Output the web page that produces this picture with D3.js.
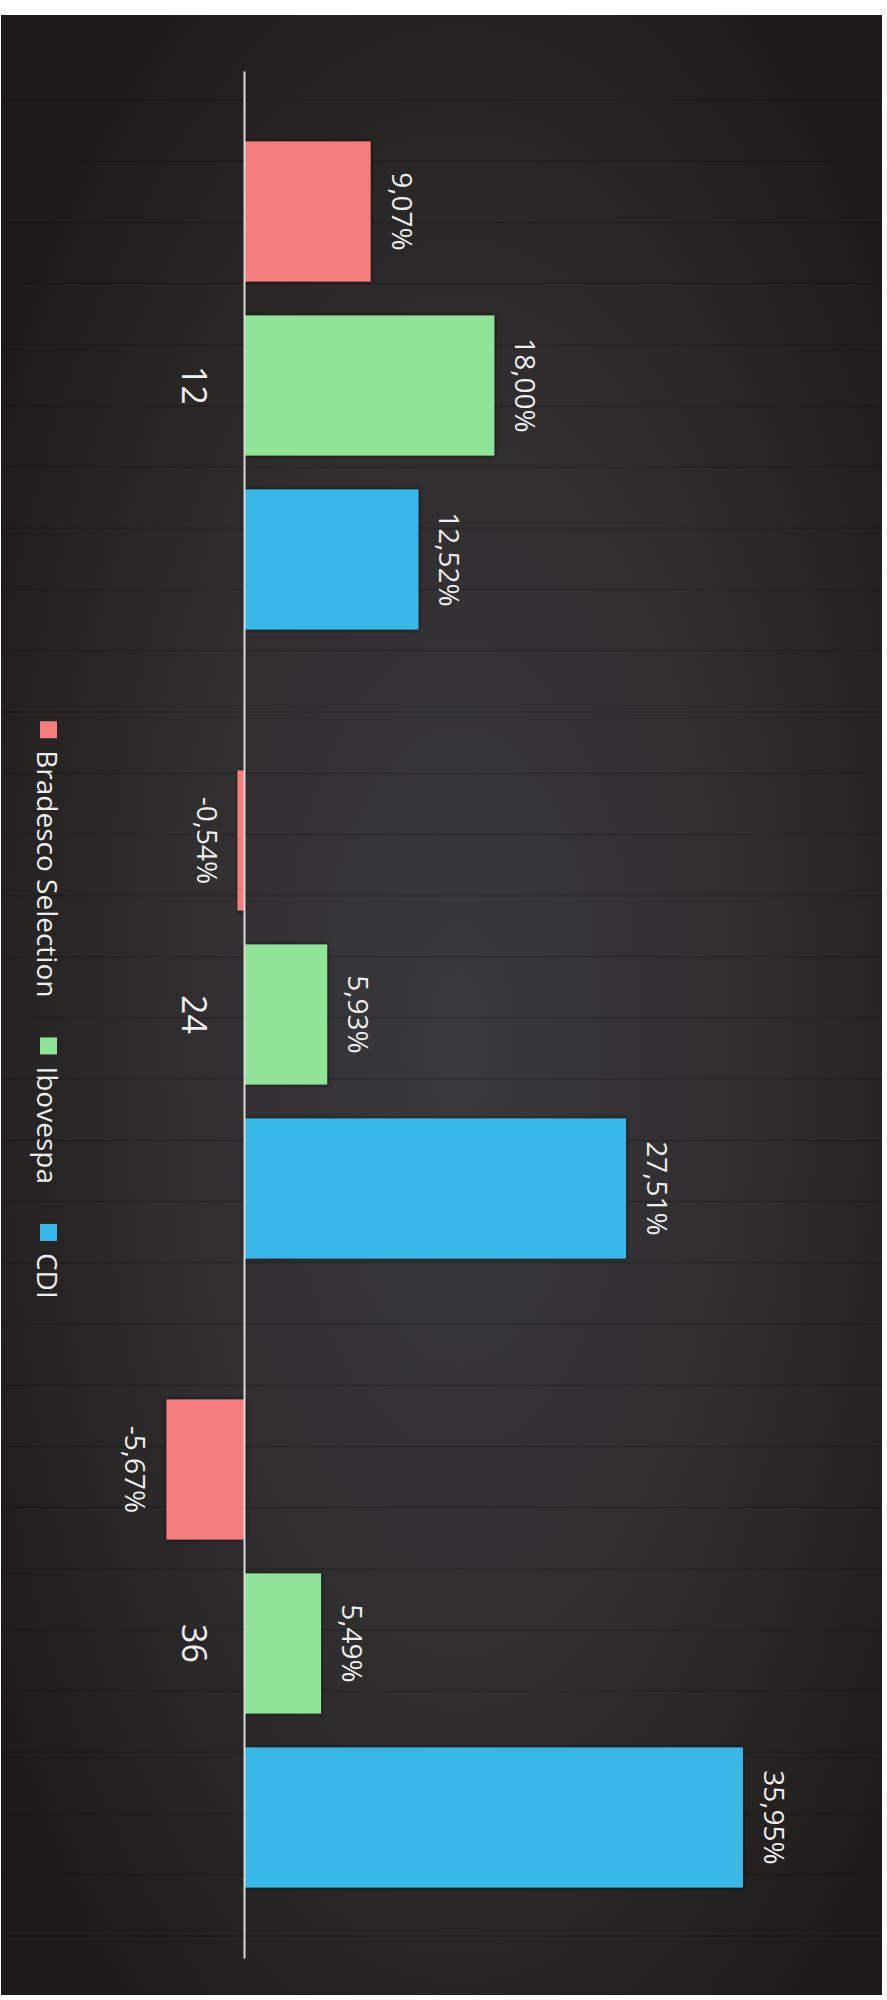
<!DOCTYPE html>
<html>
<head>
<meta charset="utf-8">
<script src="https://cdn.jsdelivr.net/npm/d3@7"></script>
<style>
  html, body { margin: 0; padding: 0; background: #ffffff; }
  svg { display: block; }
</style>
</head>
<body>
<script>
// Accumulated returns (%) per holding period (months)
const periods = ["12", "24", "36"];
const seriesNames = ["Bradesco Selection", "Ibovespa", "CDI"];
const bradescoSelection = [9.07, -0.54, -5.67];
const ibovespa = [18.00, 5.93, 5.49];
const cdi = [12.52, 27.51, 35.95];
const seriesColors = ["#f67d7e", "#8fe498", "#37b8e9"];
const valueDomain = [-10, 40];

const seriesValues = [bradescoSelection, ibovespa, cdi];
const rows = periods.map((p, i) => ({
  period: p,
  values: seriesNames.map((name, j) => ({ name, value: seriesValues[j][i], color: seriesColors[j] }))
}));

const ptBR = d3.formatLocale({ decimal: ",", thousands: ".", grouping: [3], currency: ["R$", ""], minus: "-" });
const fmt = v => ptBR.format(".2f")(v) + "%";

const W = 887, H = 2000;
const svg = d3.select("body").append("svg").attr("width", W).attr("height", H);
const defs = svg.append("defs");

const grad = defs.append("radialGradient").attr("id", "panelBg")
  .attr("cx", "52%").attr("cy", "52%").attr("r", "62%");
grad.append("stop").attr("offset", "0%").attr("stop-color", "#3a393c");
grad.append("stop").attr("offset", "55%").attr("stop-color", "#2f2d2e");
grad.append("stop").attr("offset", "100%").attr("stop-color", "#201b1a");

const shadow = defs.append("filter").attr("id", "barShadow")
  .attr("x", "-10%").attr("y", "-10%").attr("width", "120%").attr("height", "120%");
shadow.append("feDropShadow").attr("dx", 0).attr("dy", 0).attr("stdDeviation", 2)
  .attr("flood-color", "#000").attr("flood-opacity", 0.75);

// Dark panel
const panel = { x: 1, y: 15, w: 881, h: 1980 };
svg.append("rect").attr("x", panel.x).attr("y", panel.y)
  .attr("width", panel.w).attr("height", panel.h).attr("fill", "url(#panelBg)");

// Faint banding across the panel
const bandLines = svg.append("g").attr("stroke", "rgba(0,0,0,0.18)").attr("stroke-width", 1.5);
for (let yy = 100; yy < panel.y + panel.h; yy += 61.2) {
  bandLines.append("line").attr("x1", panel.x).attr("x2", panel.x + panel.w)
    .attr("y1", yy).attr("y2", yy);
}

// The column chart is laid out in its own frame and turned a quarter turn clockwise
const chart = svg.append("g").attr("transform", `translate(${W},0) rotate(90)`);

const x0 = d3.scaleBand().domain(periods).range([71, 1958]).paddingInner(0).paddingOuter(0);
const x1 = d3.scaleBand().domain(seriesNames).range([0, x0.bandwidth()])
  .paddingInner(0.195).paddingOuter(0.405);
const y = d3.scaleLinear().domain(valueDomain).range([780.5, 88]);

const groups = chart.selectAll("g.period").data(rows).join("g")
  .attr("class", "period")
  .attr("transform", d => `translate(${x0(d.period)},0)`);

groups.selectAll("rect").data(d => d.values).join("rect")
  .attr("x", d => x1(d.name))
  .attr("width", x1.bandwidth())
  .attr("y", d => Math.min(y(d.value), y(0)))
  .attr("height", d => Math.abs(y(d.value) - y(0)))
  .attr("fill", d => d.color)
  .attr("filter", "url(#barShadow)");

const labelSize = 28;
groups.selectAll("text.val").data(d => d.values).join("text")
  .attr("class", "val")
  .attr("x", d => x1(d.name) + x1.bandwidth() / 2)
  .attr("y", d => d.value >= 0 ? y(d.value) - 21 : y(d.value) + 21 + labelSize * 0.714)
  .attr("text-anchor", "middle")
  .attr("font-family", "'Open Sans', sans-serif")
  .attr("font-size", labelSize)
  .attr("fill", "#eeeeee")
  .text(d => fmt(d.value));

// Category axis along the zero line
const axis = chart.append("g").attr("transform", `translate(0,${y(0)})`)
  .call(d3.axisBottom(x0).tickSize(0).tickSizeOuter(0));
axis.select(".domain").attr("stroke", "#d9d9d9").attr("stroke-width", 2);
axis.selectAll(".tick text")
  .attr("y", 63).attr("dy", null)
  .attr("font-family", "'Open Sans', sans-serif")
  .attr("font-size", 34)
  .attr("fill", "#eeeeee");

// Legend
const legend = chart.append("g");
const legendItems = legend.selectAll("g").data(seriesNames).join("g");
legendItems.append("rect")
  .attr("y", 830).attr("width", 17).attr("height", 17)
  .attr("fill", (d, i) => seriesColors[i]);
legendItems.append("text")
  .attr("x", 29).attr("y", 850)
  .attr("font-family", "'Open Sans', sans-serif")
  .attr("font-size", 28)
  .attr("fill", "#eeeeee")
  .text(d => d);
let cursor = 0;
const offsets = [];
legendItems.each(function () {
  offsets.push(cursor);
  cursor += 29 + d3.select(this).select("text").node().getComputedTextLength() + 40;
});
const legendWidth = cursor - 40;
const legendStart = 1010 - legendWidth / 2;
legendItems.attr("transform", (d, i) => `translate(${legendStart + offsets[i]},0)`);
</script>
</body>
</html>
